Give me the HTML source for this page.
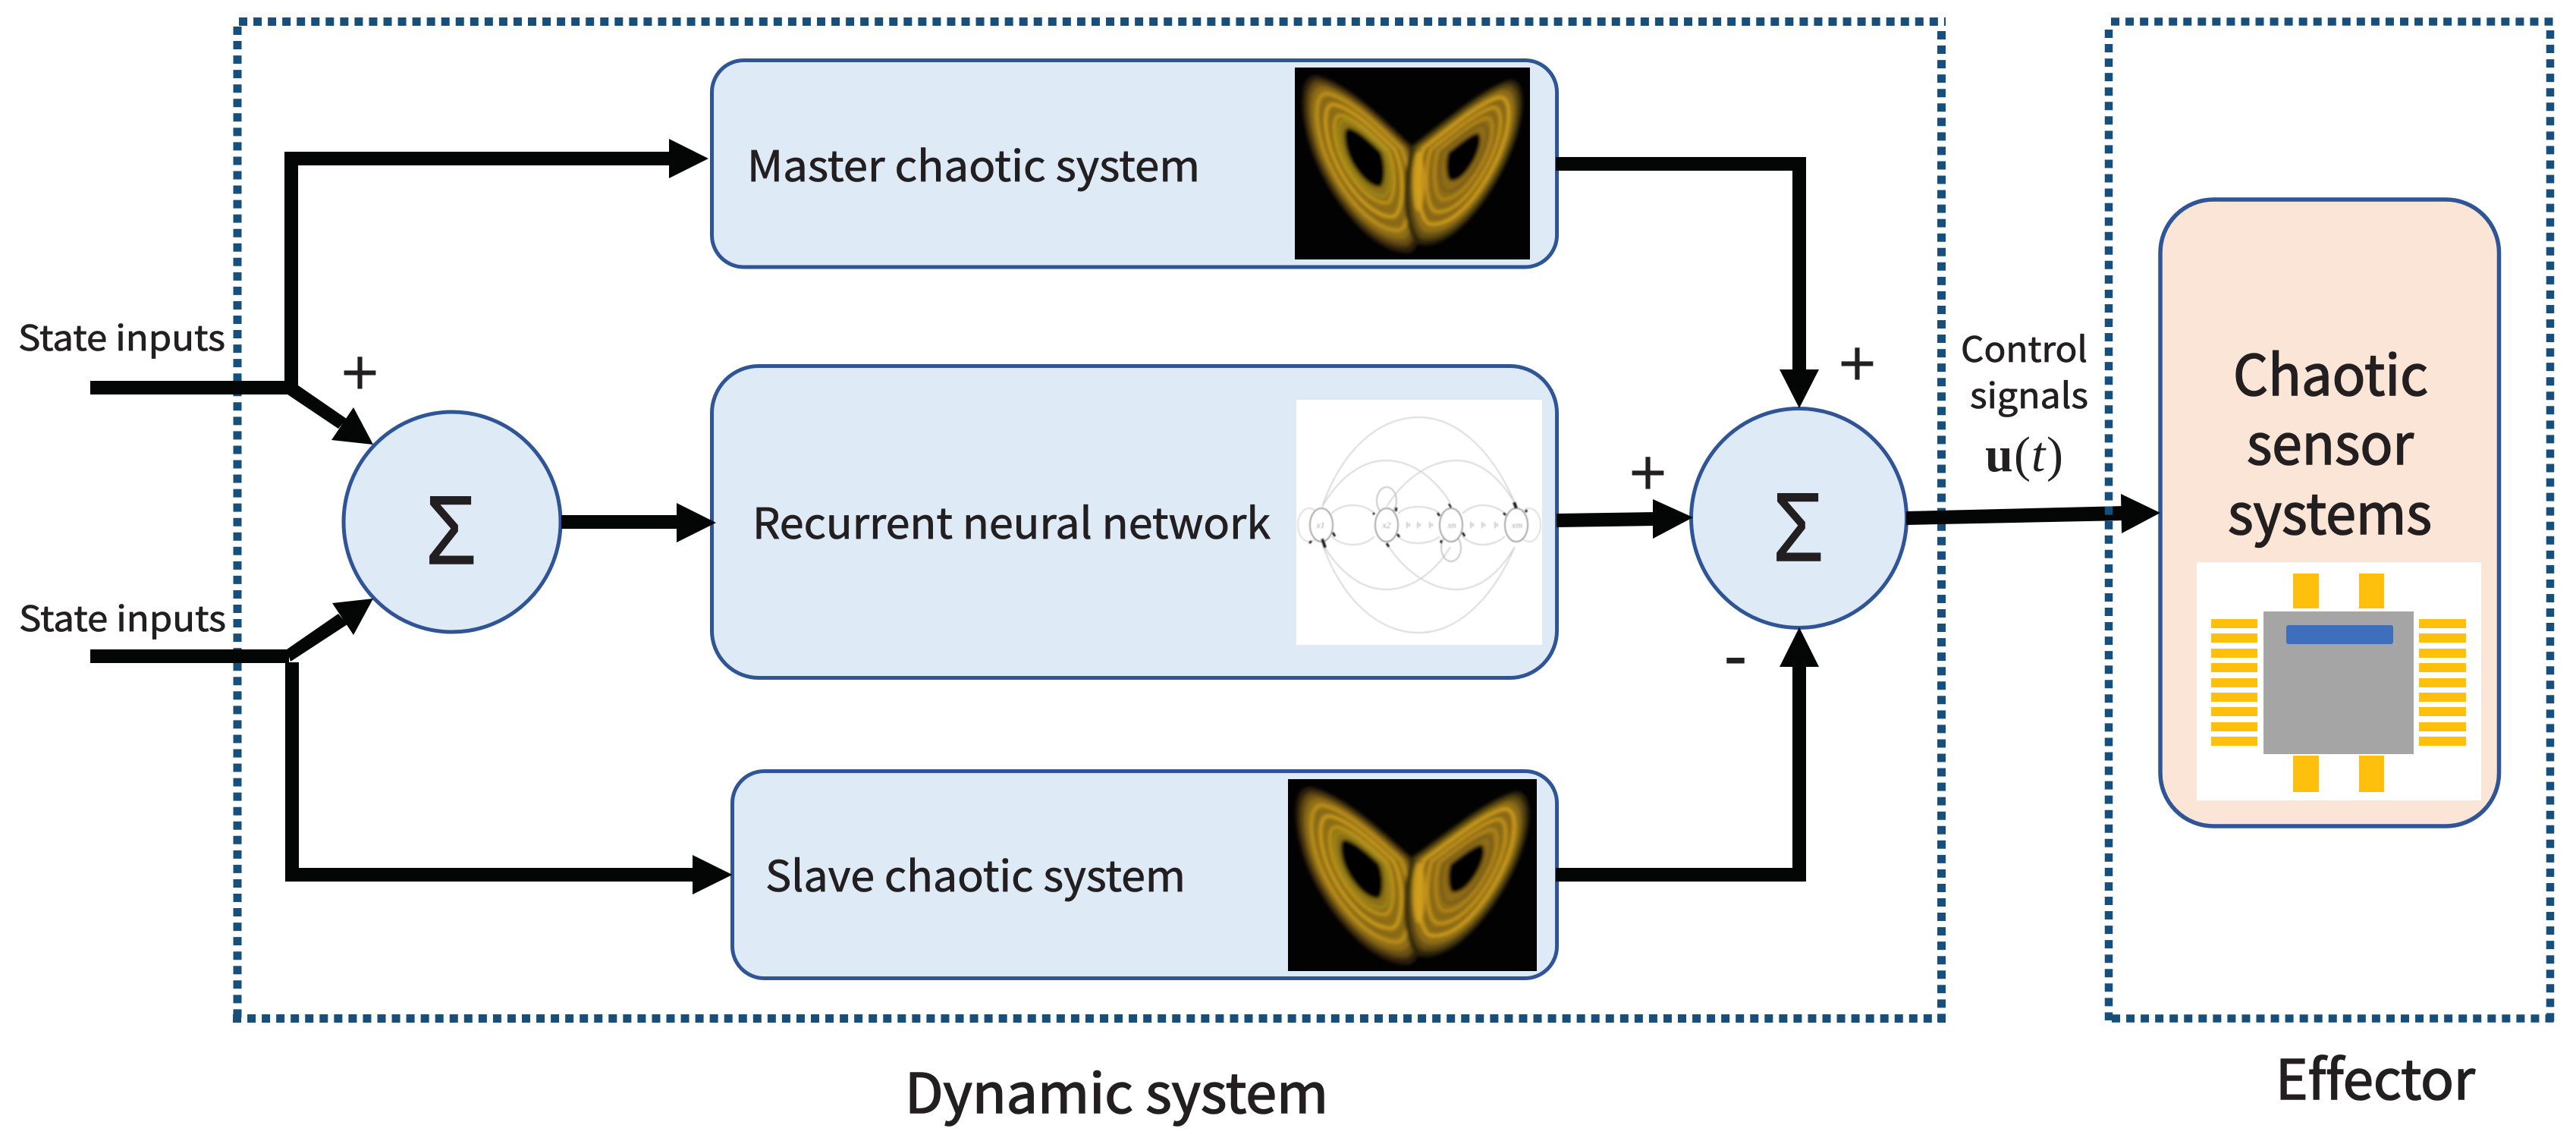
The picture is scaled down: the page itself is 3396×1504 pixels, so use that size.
<!DOCTYPE html>
<html lang="en">
<head>
<meta charset="utf-8">
<title>Chaotic sensor control diagram</title>
<style>
html,body{margin:0;padding:0;background:#fff;width:3396px;height:1504px;overflow:hidden}
svg{display:block}
text{font-family:"Liberation Sans",sans-serif;fill:#231f20;font-variant-ligatures:none}
.n{font-family:"Noto Sans CJK SC","Liberation Sans",sans-serif}
</style>
</head>
<body>
<svg xmlns="http://www.w3.org/2000/svg" width="3396" height="1504" viewBox="0 0 3396 1504">
<defs>
<filter id="b2" x="-10%" y="-10%" width="120%" height="120%"><feGaussianBlur stdDeviation="2.2"/></filter>
<filter id="b1" x="-5%" y="-5%" width="110%" height="110%"><feGaussianBlur stdDeviation="0.7"/></filter>
<path id="wl" d="M153 104C120 72 70 22 30 12C8 8 6 50 20 100C40 165 100 245 150 243C172 238 176 150 153 104Z"/>
<path id="wr" d="M155 104C190 78 250 26 282 18C304 14 302 60 290 94C272 150 215 240 165 232C145 225 140 150 155 104Z"/>
<g id="lorenz">
<rect x="0" y="0" width="310" height="253" fill="#020202"/>
<g filter="url(#b2)" fill="none">
<use href="#wl" stroke="#2a1e0a" stroke-width="3" fill="#2a1e0a"/>
<use href="#wl" stroke="#4e3a10" stroke-width="4" fill="#6a5012" transform="translate(93 114) scale(.94) translate(-93 -114)"/>
<use href="#wl" stroke="#8a6a14" stroke-width="4" fill="#8f6e16" transform="translate(93 114) scale(.86) translate(-93 -114)"/>
<use href="#wl" stroke="#c2941a" stroke-width="5" transform="translate(93 114) scale(.78) translate(-93 -114)"/>
<use href="#wl" stroke="#7e6014" stroke-width="3" transform="translate(93 114) scale(.71) translate(-93 -114)"/>
<use href="#wl" stroke="#d8a61c" stroke-width="5" transform="translate(93 114) scale(.64) translate(-93 -114)"/>
<use href="#wl" stroke="#86691a" stroke-width="3" transform="translate(93 114) scale(.57) translate(-93 -114)"/>
<use href="#wl" stroke="#d3a41c" stroke-width="5" transform="translate(93 114) scale(.5) translate(-93 -114)"/>
<use href="#wl" stroke="#a0961e" stroke-width="5" transform="translate(93 114) scale(.43) translate(-93 -114)"/>
<use href="#wl" fill="#000" stroke="#7a7418" stroke-width="3" transform="translate(93 114) scale(.34) translate(-93 -114)"/>
<use href="#wr" stroke="#2a220a" stroke-width="3" fill="#2a220a"/>
<use href="#wr" stroke="#504210" stroke-width="4" fill="#6a5012" transform="translate(222 115) scale(.94) translate(-222 -115)"/>
<use href="#wr" stroke="#8e7016" stroke-width="4" fill="#8f6c16" transform="translate(222 115) scale(.86) translate(-222 -115)"/>
<use href="#wr" stroke="#d4a01c" stroke-width="5" transform="translate(222 115) scale(.78) translate(-222 -115)"/>
<use href="#wr" stroke="#806014" stroke-width="3" transform="translate(222 115) scale(.71) translate(-222 -115)"/>
<use href="#wr" stroke="#cf9c1a" stroke-width="5" transform="translate(222 115) scale(.64) translate(-222 -115)"/>
<use href="#wr" stroke="#80601a" stroke-width="3" transform="translate(222 115) scale(.57) translate(-222 -115)"/>
<use href="#wr" stroke="#c2921c" stroke-width="5" transform="translate(222 115) scale(.5) translate(-222 -115)"/>
<use href="#wr" stroke="#66501a" stroke-width="5" transform="translate(222 115) scale(.41) translate(-222 -115)"/>
<use href="#wr" fill="#000" stroke="#30260c" stroke-width="3" transform="translate(222 115) scale(.29) translate(-222 -115)"/>
<ellipse cx="163" cy="150" rx="8" ry="40" fill="#d4a41b" opacity=".8"/>
</g>
</g>
<g id="rnnhalf" fill="none" stroke="#cfcfcf" stroke-width="1.5">
<path d="M1743 668C1770 590 1820 550 1870 550C1925 550 1970 600 1997 663"/>
<path d="M1743 668C1765 630 1795 607 1827 607C1865 607 1895 635 1912 663"/>
<path d="M1828 668C1850 632 1885 607 1920 607C1955 607 1980 635 1997 663"/>
<path d="M1755 677C1765 668 1775 666 1783 666C1795 666 1805 670 1812 677"/>
<path d="M1843 677C1850 670 1860 668 1869 668C1880 668 1892 671 1898 677"/>
<path d="M1928 677C1935 670 1945 666 1955 666C1965 666 1977 670 1984 677"/>
</g>
</defs>

<rect width="3396" height="1504" fill="#fff"/>

<!-- Dynamic system dashed frame -->
<g fill="none" stroke="#174f7c" stroke-width="11" stroke-dasharray="11 8.05">
<path d="M315 28.5H2565"/>
<path d="M313 35V1348"/>
<path d="M307 1342.5H2565"/>
<path d="M2559.5 41V1348"/>
</g>

<!-- Blocks -->
<g fill="#deebf7" stroke="#2f5597" stroke-width="5">
<rect x="938.5" y="79.5" width="1114" height="272.5" rx="42" ry="42"/>
<rect x="938.5" y="482.5" width="1114" height="411" rx="62" ry="62"/>
<rect x="965.5" y="1016.5" width="1087" height="273" rx="42" ry="42"/>
<ellipse cx="596" cy="688" rx="143" ry="145"/>
<ellipse cx="2371.5" cy="683" rx="142" ry="144.5"/>
</g>
<rect x="2848" y="263" width="446.5" height="826" rx="70" ry="70" fill="#fbe5d6" stroke="#2f5597" stroke-width="5.5"/>

<!-- Lorenz images -->
<svg x="1707" y="89" width="310" height="253" viewBox="0 0 310 253" preserveAspectRatio="none"><use href="#lorenz"/></svg>
<svg x="1698" y="1027" width="328" height="253" viewBox="0 0 310 253" preserveAspectRatio="none"><use href="#lorenz"/></svg>

<!-- RNN image -->
<rect x="1709" y="527" width="324" height="323" fill="#fff"/>
<g filter="url(#b1)">
<use href="#rnnhalf"/>
<use href="#rnnhalf" transform="translate(0 1384) scale(1 -1)"/>
<g fill="none" stroke="#d6d6d6" stroke-width="1.5">
<ellipse cx="1726" cy="692" rx="15" ry="22"/>
<ellipse cx="2016" cy="692" rx="15" ry="22"/>
</g>
<g fill="none" stroke="#b8b8b8" stroke-width="1.5">
<ellipse cx="1828" cy="660" rx="13" ry="18"/>
<ellipse cx="1913" cy="722" rx="13" ry="18"/>
</g>
<g fill="#fff" stroke="#999" stroke-width="1.8">
<ellipse cx="1742" cy="692" rx="15" ry="22"/>
<ellipse cx="1828" cy="692" rx="15" ry="22"/>
<ellipse cx="1913" cy="692" rx="15" ry="22"/>
<ellipse cx="1999" cy="692" rx="15" ry="22"/>
</g>
<g fill="#c9c9c9">
<rect x="1854" y="688" width="2" height="8"/><rect x="1857" y="690" width="2" height="4"/>
<rect x="1868" y="688" width="2" height="8"/><rect x="1871" y="690" width="2" height="4"/>
<rect x="1884" y="688" width="2" height="8"/><rect x="1887" y="690" width="2" height="4"/>
<rect x="1938" y="688" width="2" height="8"/><rect x="1941" y="690" width="2" height="4"/>
<rect x="1953" y="688" width="2" height="8"/><rect x="1956" y="690" width="2" height="4"/>
<rect x="1970" y="688" width="2" height="8"/><rect x="1973" y="690" width="2" height="4"/>
</g>
<g stroke="#222" stroke-linecap="butt" fill="none">
<path d="M1743 710L1747 722" stroke-width="4"/>
<path d="M1729 713L1726 716" stroke-width="3"/>
<path d="M1757 702L1760 707" stroke-width="3"/>
<path d="M1810 676L1812 678" stroke-width="3"/>
<path d="M1840 674L1841 669" stroke-width="3"/>
<path d="M1842 704L1845 708" stroke-width="3"/>
<path d="M1828 716L1831 721" stroke-width="3"/>
<path d="M1895 676L1898 680" stroke-width="3"/>
<path d="M1910 664L1913 669" stroke-width="2.5"/>
<path d="M1900 712L1900 716" stroke-width="3"/>
<path d="M1928 702L1931 707" stroke-width="3"/>
<path d="M1982 676L1985 679" stroke-width="3"/>
<path d="M1996 662L1999 670" stroke-width="4"/>
<path d="M2011 675L2013 672" stroke-width="3"/>
</g>
<g font-size="12" font-style="italic" text-anchor="middle">
<text x="1741" y="696" style="fill:#999;font-family:'Liberation Serif',serif">x1</text>
<text x="1828" y="696" style="fill:#999;font-family:'Liberation Serif',serif">x2</text>
<text x="1914" y="696" style="fill:#999;font-family:'Liberation Serif',serif">xn</text>
<text x="2000" y="696" style="fill:#999;font-family:'Liberation Serif',serif">xm</text>
</g>
</g>

<!-- Chip image -->
<rect x="2896" y="741" width="375" height="314" fill="#fff"/>
<rect x="2984" y="806" width="198" height="188" fill="#a5a5a5"/>
<rect x="3014" y="824" width="141" height="25" rx="3" fill="#3f6fbc"/>
<g fill="#ffc00d">
<rect x="3023" y="756" width="34" height="46"/><rect x="3110" y="756" width="33" height="46"/>
<rect x="3023" y="996" width="34" height="48"/><rect x="3110" y="996" width="33" height="48"/>
<rect x="2915" y="816" width="61" height="12"/><rect x="2915" y="835" width="61" height="12"/><rect x="2915" y="855" width="61" height="12"/><rect x="2915" y="874" width="61" height="12"/><rect x="2915" y="894" width="61" height="12"/><rect x="2915" y="913" width="61" height="12"/><rect x="2915" y="932" width="61" height="12"/><rect x="2915" y="952" width="61" height="12"/><rect x="2915" y="971" width="61" height="12"/>
<rect x="3189" y="816" width="62" height="12"/><rect x="3189" y="835" width="62" height="12"/><rect x="3189" y="855" width="62" height="12"/><rect x="3189" y="874" width="62" height="12"/><rect x="3189" y="894" width="62" height="12"/><rect x="3189" y="913" width="62" height="12"/><rect x="3189" y="932" width="62" height="12"/><rect x="3189" y="952" width="62" height="12"/><rect x="3189" y="971" width="62" height="12"/>
</g>

<!-- Connectors -->
<g fill="#040606">
<rect x="119" y="502" width="270" height="18"/>
<rect x="375" y="200" width="18" height="312"/>
<rect x="375" y="200" width="510" height="18"/>
<polygon points="882,183 934,209 882,235"/>
<polygon points="393,508 457,552 446,565 379,520"/>
<polygon points="492,586 466,537 437,580"/>
<rect x="119" y="856" width="262" height="18"/>
<polygon points="378,856 446,809 458,823 383,872"/>
<polygon points="492,789 438,795 466,837"/>
<rect x="376" y="873" width="18" height="289"/>
<rect x="376" y="1144" width="540" height="18"/>
<polygon points="913,1127 965.5,1153 913,1179"/>
<rect x="740" y="679" width="155" height="18"/>
<polygon points="892,663 944,689 892,715"/>
<rect x="2051" y="207" width="330" height="18"/>
<rect x="2363" y="207" width="18" height="285"/>
<polygon points="2346,487 2398,487 2372,538"/>
<rect x="2051" y="1144" width="330" height="18"/>
<rect x="2363" y="875" width="18" height="287"/>
<polygon points="2346,879 2398,879 2372,827"/>
<polygon points="2052,677 2182,675 2182,693 2052,695"/>
<polygon points="2179,658 2232,682 2179,710"/>
<polygon points="2513,674 2800,667 2800,686 2513,692"/>
<polygon points="2796,651 2848,676 2797,703"/>
</g>

<!-- Effector dashed frame -->
<g fill="none" stroke="#174f7c" stroke-width="10.5" stroke-dasharray="11 8.05">
<path d="M2783 28.5H3367"/>
<path d="M2780 39V1345"/>
<path d="M2784 1342.5H3367"/>
<path d="M3362 40V1348"/>
</g>

<!-- Labels -->
<g stroke="#231f20" stroke-width="0.8">
<text class="n" x="24" y="462" font-size="46" textLength="273" lengthAdjust="spacingAndGlyphs">State inputs</text>
<text class="n" x="25" y="832" font-size="46" textLength="273" lengthAdjust="spacingAndGlyphs">State inputs</text>
<text class="n" x="985" y="239" font-size="56" textLength="597" lengthAdjust="spacingAndGlyphs">Master chaotic system</text>
<text class="n" x="992" y="710" font-size="56" textLength="683" lengthAdjust="spacingAndGlyphs">Recurrent neural network</text>
<text class="n" x="1009" y="1175" font-size="56" textLength="554" lengthAdjust="spacingAndGlyphs">Slave chaotic system</text>
<text class="n" x="2585" y="477" font-size="46" textLength="167" lengthAdjust="spacingAndGlyphs">Control</text>
<text class="n" x="2597" y="538" font-size="46" textLength="156" lengthAdjust="spacingAndGlyphs">signals</text>
</g>
<text y="621" font-size="66" style="font-family:'Liberation Serif',serif"><tspan x="2617" font-weight="bold">u</tspan><tspan x="2655">(</tspan><tspan x="2678" font-style="italic">t</tspan><tspan x="2698">)</tspan></text>
<g stroke="#231f20" stroke-width="1.5">
<text x="561" y="743" font-size="128" textLength="67" lengthAdjust="spacingAndGlyphs">Σ</text>
<text x="2337" y="739" font-size="128" textLength="67" lengthAdjust="spacingAndGlyphs">Σ</text>
</g>
<text x="474.5" y="520" font-size="86" text-anchor="middle">+</text>
<text x="2448.5" y="508" font-size="86" text-anchor="middle">+</text>
<text x="2172.5" y="652" font-size="86" text-anchor="middle">+</text>
<text x="2288" y="896" font-size="96" text-anchor="middle">-</text>
<g stroke="#231f20" stroke-width="1.6">
<text class="n" x="2944" y="521" font-size="74" textLength="257" lengthAdjust="spacingAndGlyphs">Chaotic</text>
<text class="n" x="2962" y="612" font-size="74" textLength="220" lengthAdjust="spacingAndGlyphs">sensor</text>
<text class="n" x="2937" y="704" font-size="74" textLength="269" lengthAdjust="spacingAndGlyphs">systems</text>
<text class="n" x="1193" y="1467" font-size="72" textLength="558" lengthAdjust="spacingAndGlyphs">Dynamic system</text>
<text class="n" x="3000" y="1449" font-size="72" textLength="263" lengthAdjust="spacingAndGlyphs">Effector</text>
</g>
</svg>
</body>
</html>
